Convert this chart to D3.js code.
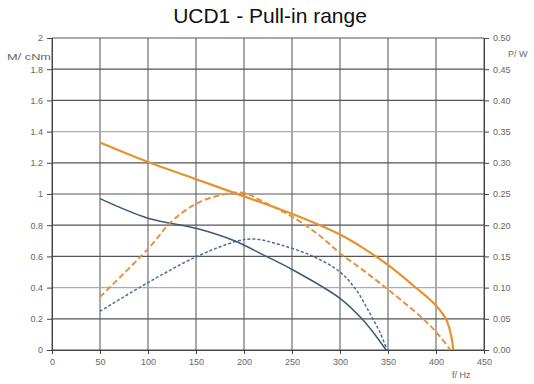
<!DOCTYPE html>
<html><head><meta charset="utf-8">
<script src="https://cdn.jsdelivr.net/npm/d3@7"></script>
<style>body{margin:0;background:#fff}svg{display:block}text{font-family:"Liberation Sans",Arial,sans-serif}</style>
</head><body><svg id="c" width="534" height="384"></svg>
<script>
const title = "UCD1 - Pull-in range";
const xTicks = [0,50,100,150,200,250,300,350,400,450];
const leftTicks = [0,0.2,0.4,0.6,0.8,1,1.2,1.4,1.6,1.8,2];
const leftLabels = ["0","0.2","0.4","0.6","0.8","1","1.2","1.4","1.6","1.8","2"];
const rightTicks = [0,0.05,0.1,0.15,0.2,0.25,0.3,0.35,0.4,0.45,0.5];
const rightLabels = ["0.00","0.05","0.10","0.15","0.20","0.25","0.30","0.35","0.40","0.45","0.50"];

// Orange: torque (left axis, solid) and power (right axis, dashed)
const orangeTorqueF = [50,100,150,200,250,300,325,350,375,400,411,416,418];
const orangeTorqueM = [1.33,1.205,1.095,0.985,0.873,0.74,0.65,0.545,0.42,0.285,0.19,0.085,0];
const orangePowerF = [50,100,126,151,175,199,217,255,279,300,324,345,366,390,404,415];
const orangePowerP = [0.085,0.162,0.208,0.235,0.248,0.252,0.24,0.209,0.183,0.155,0.128,0.103,0.077,0.045,0.022,0];
// Blue: torque (left axis, solid) and power (right axis, dashed)
const blueTorqueF = [50,100,150,190,220,251,300,324,338,348];
const blueTorqueM = [0.97,0.845,0.78,0.70,0.61,0.513,0.331,0.192,0.085,0];
const bluePowerF = [50,100,151,192,210,237,272,300,317,331,342,349];
const bluePowerP = [0.062,0.108,0.15,0.174,0.178,0.169,0.150,0.125,0.096,0.059,0.027,0];

const svg = d3.select("#c");
const L=52,R=484,T=38,B=350;
const x = d3.scaleLinear().domain([0,450]).range([L,R]);
const yL = d3.scaleLinear().domain([0,2]).range([B,T]);
const yR = d3.scaleLinear().domain([0,0.5]).range([B,T]);

svg.append("text").attr("x",270).attr("y",23).attr("text-anchor","middle")
  .attr("font-size",21).attr("fill","#111").text(title);

// grid
const g = svg.append("g");
g.selectAll(".vg").data(xTicks).join("line")
  .attr("x1",d=>x(d)).attr("x2",d=>x(d)).attr("y1",T).attr("y2",B)
  .attr("stroke","#555").attr("stroke-width",1);
g.selectAll(".hg").data(leftTicks).join("line")
  .attr("x1",L).attr("x2",R).attr("y1",d=>yL(d)).attr("y2",d=>yL(d))
  .attr("stroke",(d,i)=> (i===2||i===7)?"#aaa":"#555").attr("stroke-width",1.2);

// axes
const axL = d3.axisLeft(yL).tickValues(leftTicks).tickFormat((d,i)=>leftLabels[i]).tickSize(5).tickPadding(4);
const axR = d3.axisRight(yR).tickValues(rightTicks).tickFormat((d,i)=>rightLabels[i]).tickSize(5).tickPadding(4);
const axB = d3.axisBottom(x).tickValues(xTicks).tickFormat(d3.format("d")).tickSize(4).tickPadding(5);
function style(sel){
  sel.select(".domain").attr("stroke","#444");
  sel.selectAll(".tick line").attr("stroke","#444");
  sel.selectAll(".tick text").attr("fill","#666").attr("font-size",9);
}
svg.append("g").attr("transform",`translate(${L},0)`).call(axL).call(style);
svg.append("g").attr("transform",`translate(${R},0)`).call(axR).call(style);
svg.append("g").attr("transform",`translate(0,${B})`).call(axB).call(style);

svg.append("text").attr("x",7).attr("y",60).attr("font-size",9).attr("fill","#666")
  .attr("textLength",44).attr("lengthAdjust","spacingAndGlyphs").text("M/ cNm");
svg.append("text").attr("x",508).attr("y",57).attr("font-size",9).attr("fill","#666").text("P/ W");
svg.append("text").attr("x",452).attr("y",378).attr("font-size",9).attr("fill","#666").text("f/ Hz");

const lineL = d3.line().x(d=>x(d[0])).y(d=>yL(d[1])).curve(d3.curveCatmullRom.alpha(0.5));
const lineR = d3.line().x(d=>x(d[0])).y(d=>yR(d[1])).curve(d3.curveCatmullRom.alpha(0.5));
const zip=(a,b)=>a.map((v,i)=>[v,b[i]]);

svg.append("path").attr("d",lineR(zip(bluePowerF,bluePowerP))).attr("fill","none")
  .attr("stroke","#4a6e9a").attr("stroke-width",1.5).attr("stroke-dasharray","3,2");
svg.append("path").attr("d",lineL(zip(blueTorqueF,blueTorqueM))).attr("fill","none")
  .attr("stroke","#3d5878").attr("stroke-width",1.5);
svg.append("path").attr("d",lineR(zip(orangePowerF,orangePowerP))).attr("fill","none")
  .attr("stroke","#e8923a").attr("stroke-width",2).attr("stroke-dasharray","6,3");
svg.append("path").attr("d",lineL(zip(orangeTorqueF,orangeTorqueM))).attr("fill","none")
  .attr("stroke","#e8922e").attr("stroke-width",2.2);
</script></body></html>
